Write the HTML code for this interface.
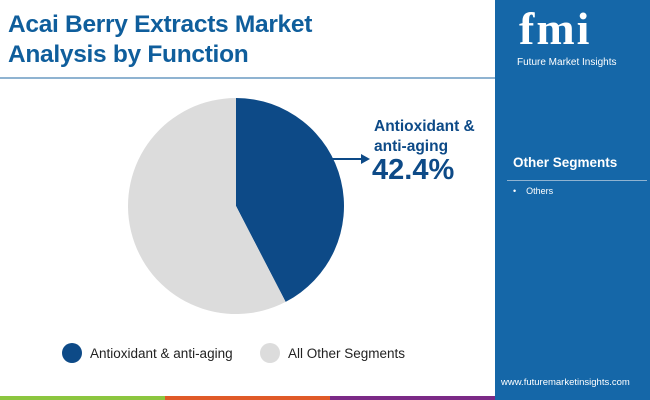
<!DOCTYPE html>
<html><head><meta charset="utf-8"><style>
body{margin:0;width:650px;height:400px;overflow:hidden;background:#fff;font-family:"Liberation Sans",sans-serif;position:relative}
.abs{position:absolute}
</style></head><body>
<div class="abs" style="left:8px;top:10px;color:#0f5e9c;font-size:24.5px;font-weight:bold;line-height:30px;letter-spacing:-0.3px">Acai Berry Extracts Market<br>Analysis by Function</div>
<div class="abs" style="left:0;top:77px;width:495px;height:2px;background:#8fb3d1"></div>
<svg class="abs" style="left:0;top:0" width="495" height="400">
<g id="pie"></g>
<line x1="332" y1="159" x2="362" y2="159" stroke="#0d4a87" stroke-width="2"/>
<polygon points="370,159 361,154 361,164" fill="#0d4a87"/>
</svg>
<div class="abs" style="left:374px;top:117px;color:#0d4a87;font-size:15.5px;font-weight:bold;line-height:20px">Antioxidant &amp;<br>anti-aging</div>
<div class="abs" style="left:372px;top:154px;color:#0d4a87;font-size:29px;font-weight:bold">42.4%</div>
<div class="abs" style="left:62px;top:343px;display:flex;align-items:center;font-size:13.5px;color:#222">
<span style="width:20px;height:20px;border-radius:50%;background:#0d4a87;display:inline-block;margin-right:8px"></span>Antioxidant &amp; anti-aging</div>
<div class="abs" style="left:260px;top:343px;display:flex;align-items:center;font-size:13.5px;color:#222">
<span style="width:20px;height:20px;border-radius:50%;background:#dcdcdc;display:inline-block;margin-right:8px"></span>All Other Segments</div>
<div class="abs" style="left:0;top:396px;width:165px;height:4px;background:#8cc63f"></div>
<div class="abs" style="left:165px;top:396px;width:165px;height:4px;background:#e05a28"></div>
<div class="abs" style="left:330px;top:396px;width:165px;height:4px;background:#7b2a86"></div>
<div class="abs" style="left:495px;top:0;width:155px;height:400px;background:#1567a8">
<div class="abs" style="left:24px;top:2px;color:#fff;font-size:46px;font-weight:bold;letter-spacing:2px;font-family:'Liberation Serif',serif">fmi</div>
<div class="abs" style="left:22px;top:57px;color:#fff;font-size:10px">Future Market Insights</div>
<div class="abs" style="left:18px;top:155px;color:#fff;font-size:13.5px;font-weight:bold">Other Segments</div>
<div class="abs" style="left:12px;top:180px;width:140px;height:1px;background:#8fb3d1"></div>
<div class="abs" style="left:18px;top:186px;color:#fff;font-size:9px">•&nbsp;&nbsp;&nbsp;&nbsp;Others</div>
<div class="abs" style="left:6px;top:377px;color:#fff;font-size:9.5px">www.futuremarketinsights.com</div>
</div>
<script>
const categories=["Antioxidant & anti-aging","All Other Segments"];
const values=[42.4,57.6];
const colors=["#0d4a87","#dcdcdc"];
const cx=236,cy=206,r=108;
const g=document.getElementById('pie');
const total=values.reduce((a,b)=>a+b,0);
let a0=-Math.PI/2;
values.forEach((v,i)=>{
  const a1=a0+v/total*2*Math.PI;
  const large=(a1-a0)>Math.PI?1:0;
  const p=document.createElementNS('http://www.w3.org/2000/svg','path');
  p.setAttribute('d',`M${cx},${cy} L${cx+r*Math.cos(a0)},${cy+r*Math.sin(a0)} A${r},${r} 0 ${large} 1 ${cx+r*Math.cos(a1)},${cy+r*Math.sin(a1)} Z`);
  p.setAttribute('fill',colors[i]);
  
  
  g.appendChild(p);
  a0=a1;
});
</script>
</body></html>
